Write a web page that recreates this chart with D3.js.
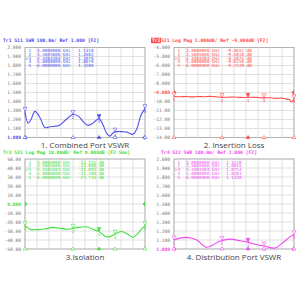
<!DOCTYPE html>
<html>
<head>
<meta charset="utf-8">
<script src="https://cdn.jsdelivr.net/npm/d3@7"></script>
<style>
  body { margin: 0; background: #fff; }
  svg { display: block; }
</style>
</head>
<body>
<svg id="chart" width="300" height="300"></svg>
<script>
// sweep position of the 5 markers (0 = start, 1 = stop of the trace)
const markerPos = [0, 0.4, 0.617, 0.75, 1.0]
const markerNames = ["1", "2", ">3", "4", "5"]
const markerFreqs = ["3.0000000", "3.5605606", "4.4484484", "5.0000000", "6.0000000"]

const titles = ["1. Combined Port VSWR", "2. Insertion Loss", "3.Isolation", "4. Distribution  Port VSWR"]
const headers = [
  "Tr1 S11 SWR 100.0m/ Ref 1.000 [F2]",
  "S21 Log Mag 1.000dB/ Ref -9.000dB [F2]",
  "Tr3 S31 Log Mag 10.00dB/ Ref 0.000dB [F2 Smo]",
  "Tr4 S22 SWR 100.0m/ Ref 1.000 [F2]"
]
const colors = ["#4f4ff0", "#ff4a4a", "#3fe03f", "#f04af0"]

const ticks1 = ["2.000", "1.900", "1.800", "1.700", "1.600", "1.500", "1.400", "1.300", "1.200", "1.100", "1.000"]
const ticks2 = ["-4.000", "-5.000", "-6.000", "-7.000", "-8.000", "-9.000", "-10.00", "-11.00", "-12.00", "-13.00", "-14.00"]
const ticks3 = ["50.00", "40.00", "30.00", "20.00", "10.00", "0.000", "-10.00", "-20.00", "-30.00", "-40.00", "-50.00"]
const ticks4 = ["2.000", "1.900", "1.800", "1.700", "1.600", "1.500", "1.400", "1.300", "1.200", "1.100", "1.000"]

const domains = [[1, 2], [-14, -4], [-50, 50], [1, 2]]
const refValues = [1, -9, 0, 1]

const markerVals1 = ["1.1318", "1.2602", "1.2079", "1.0679", "1.3280"]
const markerVals2 = ["-9.4657 dB", "-9.5818 dB", "-9.5825 dB", "-9.6150 dB", "-9.7220 dB"]
const markerVals3 = ["-31.255 dB", "-33.000 dB", "-31.003 dB", "-31.500 dB", "-27.743 dB"]
const markerVals4 = ["1.1118", "1.0655", "1.0753", "1.0283", "1.1330"]

// traces: sweep fraction and value
const sweep1 = [0, 0.025, 0.05, 0.083, 0.125, 0.167, 0.208, 0.25, 0.292, 0.342, 0.4, 0.442, 0.483, 0.525, 0.567, 0.617, 0.65, 0.683, 0.708, 0.733, 0.767, 0.808, 0.85, 0.9, 0.933, 0.967, 1.0]
const trace1 = [1.29, 1.16, 1.2, 1.29, 1.22, 1.11, 1.12, 1.125, 1.14, 1.2, 1.255, 1.24, 1.18, 1.135, 1.16, 1.21, 1.14, 1.04, 1.015, 1.05, 1.065, 1.065, 1.06, 1.035, 1.1, 1.25, 1.32]

const sweep2 = [0, 0.05, 0.1, 0.15, 0.2, 0.25, 0.3, 0.35, 0.4, 0.45, 0.5, 0.55, 0.6, 0.65, 0.7, 0.75, 0.8, 0.85, 0.9, 0.93, 0.96, 0.98, 1.0]
const trace2 = [-9.45, -9.48, -9.44, -9.49, -9.45, -9.47, -9.43, -9.47, -9.55, -9.52, -9.5, -9.54, -9.55, -9.52, -9.56, -9.6, -9.58, -9.65, -9.62, -9.72, -9.78, -10.05, -9.7]

const sweep3 = [0, 0.04, 0.1, 0.17, 0.23, 0.29, 0.36, 0.4, 0.45, 0.52, 0.58, 0.617, 0.67, 0.7, 0.75, 0.8, 0.86, 0.9, 0.94, 0.97, 1.0]
const trace3 = [-24, -28, -28.5, -27.5, -26, -27, -28, -27, -26, -25.5, -29, -30.5, -36, -36.5, -33.5, -30.5, -34, -37, -33, -28, -24]

const sweep4 = [0, 0.04, 0.11, 0.19, 0.27, 0.38, 0.47, 0.55, 0.62, 0.69, 0.76, 0.84, 0.9, 0.96, 1.0]
const trace4 = [1.099, 1.118, 1.129, 1.099, 1.019, 1.085, 1.11, 1.091, 1.074, 1.047, 1.03, 1.011, 1.062, 1.129, 1.157]

const panels = [
  { left: 25, top: 47.5, ticks: ticks1, vals: markerVals1, sweep: sweep1, trace: trace1 },
  { left: 174, top: 47.5, ticks: ticks2, vals: markerVals2, sweep: sweep2, trace: trace2 },
  { left: 25, top: 159, ticks: ticks3, vals: markerVals3, sweep: sweep3, trace: trace3 },
  { left: 174, top: 159, ticks: ticks4, vals: markerVals4, sweep: sweep4, trace: trace4 }
]

const plotW = 120
const plotH = 90

let svg = d3.select("#chart")

panels.forEach((p, k) => {
  const color = colors[k]
  const g = svg.append("g").attr("transform", `translate(${p.left},${p.top})`)

  const x = d3.scaleLinear().domain([0, 1]).range([0, plotW])
  const y = d3.scaleLinear().domain(domains[k]).range([plotH, 0])

  /**
   * Grid
   */
  const yGrid = d3.range(11).map(i => domains[k][0] + (domains[k][1] - domains[k][0]) * i / 10)
  g.selectAll(".hgrid").data(yGrid).enter().append("line")
    .attr("x1", 0).attr("x2", plotW)
    .attr("y1", d => y(d)).attr("y2", d => y(d))
    .attr("stroke", "#d9d9d9").attr("stroke-width", 0.8)
  g.selectAll(".vgrid").data(d3.range(11).map(i => i / 10)).enter().append("line")
    .attr("x1", d => x(d)).attr("x2", d => x(d))
    .attr("y1", 0).attr("y2", plotH)
    .attr("stroke", "#d9d9d9").attr("stroke-width", 0.8)
  g.append("rect")
    .attr("width", plotW).attr("height", plotH)
    .attr("fill", "none").attr("stroke", "#a8a8a8").attr("stroke-width", 0.8)

  /**
   * Y tick labels, reference level in trace colour
   */
  g.selectAll(".ytick").data(p.ticks).enter().append("text")
    .attr("x", -4)
    .attr("y", (d, i) => y(yGrid[10 - i]) + 1.6)
    .attr("text-anchor", "end")
    .attr("font-family", "DejaVu Sans Mono")
    .attr("font-size", 4.6)
    .attr("fill", (d, i) => yGrid[10 - i] === refValues[k] ? color : "#777")
    .attr("font-weight", (d, i) => yGrid[10 - i] === refValues[k] ? "bold" : "normal")
    .text(d => d)

  // reference arrows on both edges
  const ry = y(refValues[k])
  g.append("path").attr("d", `M0,${ry - 2.5}L2.5,${ry}L0,${ry + 2.5}Z`).attr("fill", color)
  g.append("path").attr("d", `M${plotW},${ry - 2.5}L${plotW - 2.5},${ry}L${plotW},${ry + 2.5}Z`).attr("fill", color)

  /**
   * Header line and marker table
   */
  g.append("text")
    .attr("x", k % 2 === 0 ? -22 : -13)
    .attr("y", -5.5)
    .attr("font-family", "DejaVu Sans Mono")
    .attr("font-size", 4.7)
    .attr("font-weight", "bold")
    .attr("fill", color)
    .text(headers[k])

  if (k === 1) {
    g.append("rect").attr("x", -23).attr("y", -9.8).attr("width", 10).attr("height", 5.5).attr("fill", color)
    g.append("text").attr("x", -22).attr("y", -5.5)
      .attr("font-family", "DejaVu Sans Mono").attr("font-size", 4.7).attr("font-weight", "bold")
      .attr("fill", "#fff").text("Tr2")
  }

  const rows = g.selectAll(".mrow").data(markerNames).enter().append("g")
    .attr("transform", (d, i) => `translate(0,${4.5 + i * 3.8})`)
    .attr("font-family", "DejaVu Sans Mono")
    .attr("font-size", 4.3)
    .attr("fill", color)
  rows.append("text").attr("x", 6).attr("text-anchor", "end").text(d => d)
  rows.append("text").attr("x", 12).text((d, i) => markerFreqs[i] + " GHz")
  rows.append("text").attr("x", k % 2 === 0 ? 53 : 52).text((d, i) => p.vals[i])

  /**
   * Trace
   */
  const pts = p.sweep.map((s, i) => [s, p.trace[i]])
  const line = d3.line().x(d => x(d[0])).y(d => y(d[1])).curve(d3.curveCatmullRom.alpha(0.5))
  g.append("path").datum(pts)
    .attr("d", line)
    .attr("fill", "none")
    .attr("stroke", color)
    .attr("stroke-width", 1.1)

  /**
   * Markers on the trace and on the bottom edge
   */
  const lookup = g.append("path").datum(pts).attr("d", line).attr("fill", "none").attr("stroke", "none").node()
  const len = lookup.getTotalLength()
  markerPos.forEach((m, i) => {
    const mx = x(m)
    // find the trace height at mx
    let lo = 0, hi = len
    for (let it = 0; it < 30; it++) {
      const mid = (lo + hi) / 2
      if (lookup.getPointAtLength(mid).x < mx) lo = mid
      else hi = mid
    }
    const my = lookup.getPointAtLength(lo).y
    g.append("path")
      .attr("d", `M${mx - 1.8},${my - 4}L${mx + 1.8},${my - 4}L${mx},${my}Z`)
      .attr("fill", i === 2 ? color : "#fff").attr("stroke", color).attr("stroke-width", 0.6)
    g.append("text")
      .attr("x", mx).attr("y", my + 4.5)
      .attr("text-anchor", "middle")
      .attr("font-family", "DejaVu Sans")
      .attr("font-size", 4)
      .attr("fill", color)
      .text(i + 1)
    g.append("path")
      .attr("d", `M${mx - 2},${plotH + 1}L${mx + 2},${plotH + 1}L${mx},${plotH - 2}Z`)
      .attr("fill", i === 2 ? color : "#fff").attr("stroke", color).attr("stroke-width", 0.6)
  })

  /**
   * Panel title
   */
  g.append("text")
    .attr("x", plotW / 2)
    .attr("y", plotH + 10.5)
    .attr("text-anchor", "middle")
    .attr("font-family", "Open Sans")
    .attr("font-size", 8)
    .attr("fill", "#444")
    .text(titles[k])
})
</script>
</body>
</html>
